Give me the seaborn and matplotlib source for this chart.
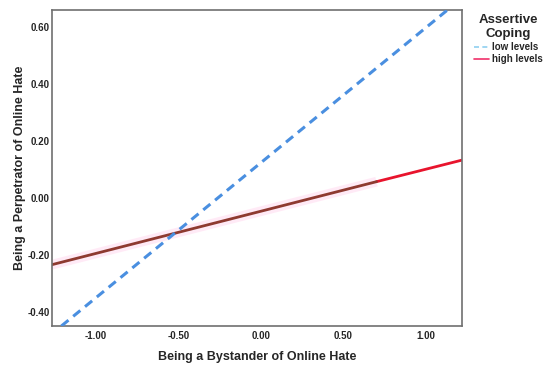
import pandas as pd
import matplotlib
matplotlib.use("Agg")
import matplotlib.pyplot as plt
import seaborn as sns
from matplotlib.lines import Line2D

# fitted simple slopes
low_x = [-1.21, 1.13]
low_y = [-0.45, 0.66]
high_x = [-1.27, 0.70, 1.22]
high_y = [-0.235, 0.057, 0.133]

x_ticks = [-1.0, -0.5, 0.0, 0.5, 1.0]
y_ticks = [-0.4, -0.2, 0.0, 0.2, 0.4, 0.6]

sns.set_style("white")
plt.rcParams['font.family'] = ['Liberation Sans', 'DejaVu Sans']

fig = plt.figure(figsize=(5.5, 3.67), dpi=100)
ax = fig.add_axes([0.0945, 0.1117, 0.7455, 0.8611])

low_df = pd.DataFrame({'x': low_x, 'y': low_y})
high_df = pd.DataFrame({'x': high_x, 'y': high_y})

# pale band behind the high-levels line
ax.plot(high_df['x'][:2], high_df['y'][:2], color='#ffd6ee', lw=7, alpha=0.5,
        solid_capstyle='butt', zorder=1)

sns.lineplot(data=low_df, x='x', y='y', ax=ax, color='#4a8fe0', lw=2.2,
             linestyle=(0, (3, 2)), zorder=3)
sns.lineplot(data=high_df.iloc[1:], x='x', y='y', ax=ax, color='#e8142d', lw=2.0, zorder=2)
sns.lineplot(data=high_df.iloc[:2], x='x', y='y', ax=ax, color='#8e3a30', lw=2.0, zorder=2)

ax.set_xlim(-1.267, 1.218)
ax.set_ylim(-0.45, 0.66)
ax.set_xticks(x_ticks)
ax.set_xticklabels([f"{v:.2f}" for v in x_ticks])
ax.set_yticks(y_ticks)
ax.set_yticklabels([f"{v:.2f}" for v in y_ticks])
ax.tick_params(axis='x', length=0, labelsize=7, pad=3.5)
ax.tick_params(axis='y', length=0, labelsize=7, pad=1.5)
for lab in ax.get_xticklabels() + ax.get_yticklabels():
    lab.set_fontweight('bold')

ax.set_xlabel('Being a Bystander of Online Hate', fontsize=9, fontweight='bold', labelpad=7)
ax.set_ylabel('Being a Perpetrator of Online Hate', fontsize=9, fontweight='bold', labelpad=1)

for s in ax.spines.values():
    s.set_color('#707070')
    s.set_linewidth(1.2)

handles = [Line2D([], [], color='#8fd0f0', lw=1.2, linestyle=(0, (3, 2))),
           Line2D([], [], color='#f0306a', lw=1.2)]
leg = fig.legend(handles, ['low levels', 'high levels'], title='Assertive\nCoping',
                 loc='upper left', bbox_to_anchor=(0.845, 0.985), frameon=False,
                 prop={'weight': 'bold', 'size': 7}, handlelength=1.6,
                 handletextpad=0.3, labelspacing=0.2)
leg.get_title().set_fontweight('bold')
leg.get_title().set_fontsize(9.5)
leg.get_title().set_multialignment('center')

fig.savefig('out.png', dpi=100)
